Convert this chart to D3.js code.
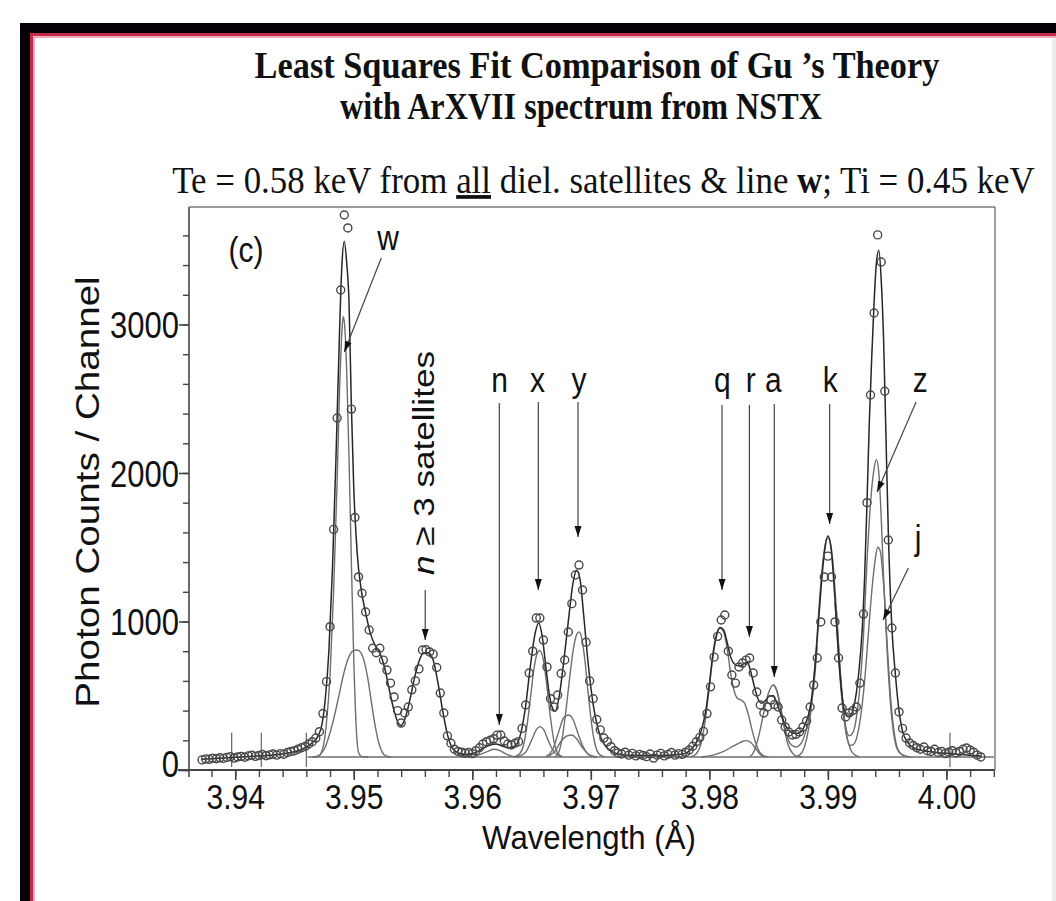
<!DOCTYPE html>
<html>
<head>
<meta charset="utf-8">
<script src="https://cdn.jsdelivr.net/npm/d3@7"></script>
<style>
  body { margin: 0; background: #fff; }
  svg { display: block; }
</style>
</head>
<body>
<div id="chart"></div>
<script>
// --- DATA ---
// measured spectrum: one count per detector channel
const channelStart = 3.9372, channelStep = 0.0003;
const counts = [
  68, 75, 72, 80, 76, 82, 78, 85, 90, 80,
  88, 92, 86, 95, 100, 92, 98, 104, 96, 102,
  108, 100, 110, 106, 118, 125, 130, 140, 150, 158,
  175, 190, 215, 258, 380, 595, 965, 1620, 2370, 3232,
  3737, 3650, 2430, 1700, 1300, 1190, 1064, 943, 820, 790,
  820, 740, 673, 585, 492, 400, 316, 384, 424, 540,
  600, 680, 808, 810, 795, 780, 690, 518, 384, 230,
  180, 140, 125, 120, 113, 118, 110, 130, 150, 175,
  190, 200, 210, 235, 236, 195, 175, 168, 180, 191,
  280, 438, 653, 800, 1023, 1023, 875, 694, 480, 424,
  505, 650, 741, 929, 1120, 1313, 1380, 1212, 860, 600,
  480, 340, 270, 215, 191, 157, 130, 115, 108, 120,
  100, 112, 95, 105, 98, 90, 108, 80, 100, 112,
  95, 105, 118, 100, 110, 105, 120, 135, 160, 190,
  220, 260, 380, 560, 760, 900, 1010, 1044, 800, 640,
  585, 694, 720, 740, 754, 653, 525, 438, 384, 424,
  471, 440, 424, 337, 290, 256, 236, 240, 256, 290,
  330, 424, 572, 754, 997, 1300, 1440, 1300, 997, 754,
  417, 357, 384, 400, 424, 585, 1050, 1800, 2525, 3077,
  3603, 3421, 2550, 1549, 956, 653, 391, 280, 215, 182,
  165, 150, 140, 155, 130, 125, 140, 118, 125, 110,
  120, 130, 115, 125, 140, 148, 135, 120, 100, 88
];

// least squares fit, total
const totalFit = [
  [3.9372, 72], [3.9390, 80], [3.9410, 90], [3.9430, 100], [3.9445, 115], [3.9455, 135],
  [3.9462, 165], [3.9466, 190], [3.9470, 230], [3.9473, 300], [3.9476, 480], [3.9479, 800],
  [3.9482, 1350], [3.9485, 2100], [3.9488, 2950], [3.9490, 3400], [3.9492, 3560], [3.9494, 3420],
  [3.9496, 3150], [3.9498, 2450], [3.9500, 1900], [3.9503, 1450], [3.9506, 1230], [3.9510, 1060],
  [3.9514, 920], [3.9518, 840], [3.9522, 790], [3.9526, 690], [3.9530, 540], [3.9534, 400],
  [3.9538, 310], [3.9540, 300], [3.9543, 340], [3.9547, 460], [3.9551, 610], [3.9555, 730],
  [3.9559, 790], [3.9563, 790], [3.9567, 740], [3.9571, 590], [3.9575, 400], [3.9579, 240],
  [3.9583, 150], [3.9588, 115], [3.9595, 105], [3.9602, 115], [3.9608, 140], [3.9614, 165],
  [3.9620, 175], [3.9626, 160], [3.9632, 150], [3.9637, 170], [3.9641, 250], [3.9645, 430],
  [3.9649, 700], [3.9653, 920], [3.9656, 990], [3.9659, 900], [3.9662, 700], [3.9665, 510],
  [3.9668, 410], [3.9670, 395], [3.9673, 480], [3.9677, 720], [3.9681, 1000], [3.9685, 1260],
  [3.9688, 1345], [3.9691, 1280], [3.9694, 1040], [3.9698, 700], [3.9702, 440], [3.9706, 280],
  [3.9710, 190], [3.9715, 140], [3.9720, 115], [3.9730, 100], [3.9760, 98], [3.9778, 108],
  [3.9784, 135], [3.9789, 185], [3.9793, 260], [3.9797, 400], [3.9800, 580], [3.9803, 780],
  [3.9806, 910], [3.9809, 960], [3.9812, 945], [3.9815, 860], [3.9818, 760], [3.9821, 715],
  [3.9825, 700], [3.9829, 715], [3.9832, 725], [3.9835, 660], [3.9838, 560], [3.9841, 480],
  [3.9844, 450], [3.9847, 465], [3.9851, 500], [3.9854, 500], [3.9857, 450], [3.9861, 360],
  [3.9865, 290], [3.9869, 255], [3.9873, 245], [3.9877, 255], [3.9881, 310], [3.9885, 420],
  [3.9888, 600], [3.9891, 880], [3.9894, 1200], [3.9897, 1460], [3.9900, 1575], [3.9903, 1470],
  [3.9906, 1150], [3.9909, 780], [3.9912, 500], [3.9915, 375], [3.9918, 360], [3.9921, 400],
  [3.9924, 520], [3.9926, 650], [3.9929, 950], [3.9931, 1300], [3.9933, 1800], [3.9935, 2350],
  [3.9937, 2780], [3.9939, 3150], [3.9941, 3420], [3.9943, 3500], [3.9945, 3300], [3.9947, 2900],
  [3.9949, 2250], [3.9951, 1600], [3.9954, 960], [3.9957, 640], [3.9960, 400], [3.9963, 260],
  [3.9967, 190], [3.9972, 150], [3.9980, 130], [3.9990, 120], [4.0000, 112], [4.0010, 106],
  [4.0020, 100], [4.0029, 95]
];

// fitted line components (grey curves)
const baseLine = [[3.9461, 88], [4.0040, 88]];
const wLine = [[3.9465, 88], [3.9470, 92], [3.9474, 150], [3.9477, 320], [3.9480, 640], [3.9483, 1200],
  [3.9486, 1950], [3.9488, 2550], [3.9490, 2950], [3.9491, 3052], [3.9492, 3020], [3.9494, 2700],
  [3.9496, 2100], [3.9498, 1400], [3.9500, 750], [3.9502, 300], [3.9504, 120], [3.9507, 90], [3.9512, 88]];
const satLine = [[3.9466, 88], [3.9470, 95], [3.9473, 115], [3.9476, 155], [3.9479, 225], [3.9482, 310],
  [3.9485, 410], [3.9488, 520], [3.9491, 630], [3.9494, 720], [3.9497, 780], [3.9500, 805], [3.9503, 808],
  [3.9506, 790], [3.9509, 725], [3.9512, 610], [3.9515, 450], [3.9518, 300], [3.9521, 185], [3.9524, 120],
  [3.9527, 95], [3.9531, 88]];
const nLine = [[3.9590, 88], [3.9600, 92], [3.9607, 105], [3.9613, 125], [3.9618, 140], [3.9623, 132],
  [3.9628, 110], [3.9634, 92], [3.9640, 88]];
const xLine = [[3.9635, 88], [3.9640, 110], [3.9643, 160], [3.9646, 290], [3.9649, 480], [3.9652, 680],
  [3.9655, 790], [3.9657, 805], [3.9660, 740], [3.9663, 560], [3.9666, 350], [3.9669, 190], [3.9672, 115], [3.9676, 90]];
const xSmallLine = [[3.9637, 88], [3.9645, 120], [3.9650, 200], [3.9654, 270], [3.9657, 292], [3.9660, 275],
  [3.9664, 200], [3.9669, 120], [3.9675, 90]];
const yLine = [[3.9670, 88], [3.9673, 120], [3.9676, 220], [3.9679, 400], [3.9682, 610], [3.9685, 800],
  [3.9688, 910], [3.9690, 930], [3.9692, 900], [3.9695, 740], [3.9698, 500], [3.9701, 290], [3.9704, 160],
  [3.9708, 100], [3.9712, 88]];
const ySmall1Line = [[3.9662, 88], [3.9668, 140], [3.9673, 260], [3.9677, 350], [3.9681, 370], [3.9685, 340],
  [3.9689, 250], [3.9694, 150], [3.9700, 95], [3.9705, 88]];
const ySmall2Line = [[3.9664, 88], [3.9670, 130], [3.9675, 195], [3.9680, 230], [3.9684, 236], [3.9688, 210],
  [3.9693, 150], [3.9699, 100], [3.9705, 88]];
const qrLine = [[3.9784, 88], [3.9789, 110], [3.9793, 180], [3.9797, 360], [3.9800, 560], [3.9803, 760],
  [3.9806, 900], [3.9809, 955], [3.9812, 930], [3.9815, 820], [3.9818, 650], [3.9821, 530], [3.9824, 480],
  [3.9827, 470], [3.9830, 445], [3.9833, 370], [3.9836, 270], [3.9839, 185], [3.9842, 125], [3.9846, 95], [3.9850, 88]];
const rSmallLine = [[3.9793, 88], [3.9803, 100], [3.9812, 125], [3.9820, 160], [3.9826, 185], [3.9831, 198],
  [3.9835, 185], [3.9839, 145], [3.9843, 105], [3.9847, 88]];
const aLine = [[3.9834, 88], [3.9838, 130], [3.9842, 240], [3.9846, 390], [3.9850, 520], [3.9854, 572],
  [3.9857, 530], [3.9860, 420], [3.9863, 290], [3.9866, 180], [3.9870, 115], [3.9874, 92], [3.9878, 88]];
const akLine = [[3.9854, 575], [3.9857, 535], [3.9860, 430], [3.9863, 310], [3.9866, 215], [3.9869, 170],
  [3.9873, 155], [3.9877, 175], [3.9881, 250], [3.9885, 390], [3.9888, 560], [3.9891, 830]];
const kLine = [[3.9872, 88], [3.9876, 100], [3.9880, 150], [3.9884, 290], [3.9887, 500], [3.9890, 800],
  [3.9893, 1150], [3.9896, 1420], [3.9899, 1555], [3.9901, 1560], [3.9904, 1420], [3.9907, 1100],
  [3.9910, 720], [3.9913, 420], [3.9916, 230], [3.9919, 140], [3.9923, 100], [3.9927, 88]];
const kzLine = [[3.9906, 1130], [3.9909, 760], [3.9912, 460], [3.9915, 290], [3.9918, 230], [3.9921, 250],
  [3.9924, 350], [3.9927, 560], [3.9930, 900], [3.9933, 1400], [3.9936, 1800], [3.9939, 2030], [3.9941, 2090],
  [3.9943, 2000], [3.9945, 1700], [3.9947, 1300], [3.9950, 800], [3.9953, 430], [3.9956, 220], [3.9960, 120],
  [3.9965, 95], [3.9970, 88]];
const kjLine = [[3.9907, 1100], [3.9910, 700], [3.9913, 400], [3.9916, 220], [3.9919, 165], [3.9922, 175],
  [3.9925, 240], [3.9928, 380], [3.9931, 600], [3.9934, 900], [3.9937, 1200], [3.9940, 1420], [3.9942, 1500],
  [3.9944, 1480], [3.9947, 1250], [3.9950, 850], [3.9953, 480], [3.9956, 250], [3.9959, 140], [3.9963, 100], [3.9968, 88]];

// short vertical range markers near the baseline
const markerWavelengths = [3.9397, 3.9422, 3.9460, 4.0003];
const markerRange = [20, 250];

// line identifications: label, label position, arrow tail, arrow head (wavelength, counts)
const lineNames = ["w", "n", "x", "y", "q", "r", "a", "k", "z", "j"];
const labelPos = [[3.9529, 3502], [3.9623, 2545], [3.9655, 2545], [3.9690, 2545], [3.9811, 2545],
  [3.9835, 2545], [3.9854, 2545], [3.9902, 2545], [3.9978, 2545], [3.9976, 1481]];
const arrowTails = [[3.95232, 3448], [3.96228, 2471], [3.96557, 2478], [3.96892, 2478], [3.98107, 2458],
  [3.98338, 2458], [3.98548, 2465], [3.99015, 2465], [3.99744, 2478], [3.99679, 1360]];
const arrowHeads = [[3.94920, 2815], [3.96228, 303], [3.96557, 1212], [3.96892, 1569], [3.98107, 1212],
  [3.98338, 896], [3.98548, 626], [3.99015, 1657], [3.99415, 1872], [3.99466, 1010]];
const satLabelPos = [3.95586, 2067];
const satArrow = [[3.95603, 1212], [3.95603, 875]];

const xTicks = [3.94, 3.95, 3.96, 3.97, 3.98, 3.99, 4.00];
const yTicks = [0, 1000, 2000, 3000];

// --- LAYOUT ---
const width = 1056, height = 901;
const SANS = "'Liberation Sans', Arial, Helvetica, sans-serif";
const SERIF = "'Liberation Serif', 'Times New Roman', serif";
const STRETCH = 1.17; // picture is a little taller than wide

const x = d3.scaleLinear().domain([3.9361, 4.0041]).range([189, 995]);
const y = d3.scaleLinear().domain([0, 3791]).range([770, 207]);

const svg = d3.select("#chart").append("svg")
    .attr("width", width).attr("height", height)
    .style("font-family", SANS);

// --- slide frame ---
svg.append("rect").attr("x", 20).attr("y", 23).attr("width", width - 20).attr("height", 10).attr("fill", "#050005");
svg.append("rect").attr("x", 20).attr("y", 23).attr("width", 10).attr("height", height - 23).attr("fill", "#050005");
svg.append("rect").attr("x", 30).attr("y", 33).attr("width", width - 30).attr("height", 3).attr("fill", "#c42a4c");
svg.append("rect").attr("x", 30).attr("y", 33).attr("width", 3).attr("height", height - 33).attr("fill", "#c42a4c");
svg.append("rect").attr("x", 33).attr("y", 36).attr("width", width - 33).attr("height", 2).attr("fill", "#f2aabb");
svg.append("rect").attr("x", 33).attr("y", 36).attr("width", 2).attr("height", height - 36).attr("fill", "#f2aabb");
svg.append("rect").attr("x", width - 4).attr("y", 38).attr("width", 4).attr("height", height - 38).attr("fill", "#ececec");

// --- titles (scaled to the measured widths) ---
function fit(sel, cx, baseY, targetW) {
  const len = sel.node().getComputedTextLength();
  sel.attr("transform", `translate(${cx},${baseY}) scale(${targetW / len},${STRETCH})`);
}
const t1 = svg.append("text").attr("text-anchor", "middle").attr("font-family", SERIF)
    .attr("font-weight", "bold").attr("font-size", 32).attr("fill", "#111")
    .text("Least Squares Fit Comparison of Gu \u2019s Theory");
fit(t1, 597, 78, 685);
const t2 = svg.append("text").attr("text-anchor", "middle").attr("font-family", SERIF)
    .attr("font-weight", "bold").attr("font-size", 32).attr("fill", "#111")
    .text("with ArXVII spectrum from NSTX");
fit(t2, 581, 119, 482);
const t3 = svg.append("text").attr("text-anchor", "middle").attr("font-family", SERIF)
    .attr("font-size", 32).attr("fill", "#111");
t3.append("tspan").text("Te = 0.58 keV from ");
t3.append("tspan").text("all").style("text-decoration", "underline");
t3.append("tspan").text(" diel. satellites & line ");
t3.append("tspan").text("w").attr("font-weight", "bold");
t3.append("tspan").text("; Ti = 0.45 keV");
fit(t3, 603.5, 193, 863);

// --- axes ---
const xMinor = d3.range(0, 34).map(i => +(3.938 + i * 0.002).toFixed(3));
const yMinor = d3.range(0, 3800, 200);

svg.append("g").attr("transform", `translate(0,${y(0)})`).attr("color", "#444")
    .call(d3.axisBottom(x).tickValues(xMinor).tickSize(7).tickSizeOuter(0).tickFormat(""))
    .call(g => g.select(".domain").remove())
    .call(g => g.selectAll("line").attr("stroke-width", 1.4));

svg.append("g").attr("transform", `translate(0,${y(0)})`).attr("color", "#444")
    .call(d3.axisBottom(x).tickValues(xTicks).tickSize(10).tickSizeOuter(0).tickFormat(d3.format(".2f")))
    .call(g => g.select(".domain").remove())
    .call(g => g.selectAll("line").attr("stroke-width", 1.6))
    .call(g => g.selectAll("text")
        .attr("y", null).attr("dy", null)
        .attr("font-size", 30).attr("font-family", SANS).attr("fill", "#111")
        .attr("transform", `translate(0,39) scale(1,${STRETCH})`));

svg.append("g").attr("transform", `translate(${x.range()[0]},0)`).attr("color", "#444")
    .call(d3.axisLeft(y).tickValues(yMinor).tickSize(6).tickSizeOuter(0).tickFormat(""))
    .call(g => g.select(".domain").remove())
    .call(g => g.selectAll("line").attr("stroke-width", 1.4));

svg.append("g").attr("transform", `translate(${x.range()[0]},0)`).attr("color", "#444")
    .call(d3.axisLeft(y).tickValues(yTicks).tickSize(10).tickSizeOuter(0).tickFormat(d3.format("d")))
    .call(g => g.select(".domain").remove())
    .call(g => g.selectAll("line").attr("stroke-width", 1.6))
    .call(g => g.selectAll("text")
        .attr("x", -10).attr("dy", "0.36em")
        .attr("font-size", 31).attr("font-family", SANS).attr("fill", "#111")
        .attr("transform", d => `translate(0,${d === 0 ? -7 : 0}) scale(1,${STRETCH})`));

// axis lines and plot frame
const [x0, x1] = x.range(), [yb, yt] = y.range();
svg.append("line").attr("x1", x0).attr("x2", x0).attr("y1", yt).attr("y2", yb + 7)
    .attr("stroke", "#444").attr("stroke-width", 1.6);
svg.append("line").attr("x1", x0 - 11).attr("x2", x1).attr("y1", yb).attr("y2", yb)
    .attr("stroke", "#444").attr("stroke-width", 1.8);
svg.append("line").attr("x1", x0).attr("x2", x1).attr("y1", yt).attr("y2", yt)
    .attr("stroke", "#777").attr("stroke-width", 1.4);
svg.append("line").attr("x1", x1).attr("x2", x1).attr("y1", yt).attr("y2", yb)
    .attr("stroke", "#777").attr("stroke-width", 1.4);

// axis titles
svg.append("text").attr("text-anchor", "middle").attr("font-size", 30).attr("fill", "#111")
    .attr("transform", `translate(589,849) scale(1.04,1.12)`)
    .text("Wavelength (\u00C5)");
svg.append("text").attr("text-anchor", "middle").attr("dominant-baseline", "central")
    .attr("font-size", 33).attr("fill", "#111")
    .attr("transform", `translate(88,492) scale(1,${STRETCH}) rotate(-90)`)
    .text("Photon Counts / Channel");

// --- curves ---
const line = d3.line().x(d => x(d[0])).y(d => y(d[1])).curve(d3.curveMonotoneX);
const componentLines = [baseLine, wLine, satLine, nLine, xLine, xSmallLine, yLine, ySmall1Line, ySmall2Line,
  qrLine, rSmallLine, aLine, akLine, kLine, kzLine, kjLine];

svg.append("g").selectAll("path").data(componentLines).join("path")
    .attr("d", line).attr("fill", "none").attr("stroke", "#6e6e6e").attr("stroke-width", 1.4);

svg.append("g").selectAll("line").data(markerWavelengths).join("line")
    .attr("x1", d => x(d)).attr("x2", d => x(d))
    .attr("y1", y(markerRange[0])).attr("y2", y(markerRange[1]))
    .attr("stroke", "#666").attr("stroke-width", 1.2);

svg.append("path").datum(totalFit).attr("d", line)
    .attr("fill", "none").attr("stroke", "#262626").attr("stroke-width", 1.5);

const points = counts.map((c, i) => [channelStart + i * channelStep, c]);
svg.append("g").selectAll("circle").data(points).join("circle")
    .attr("cx", d => x(d[0])).attr("cy", d => y(d[1])).attr("r", 4)
    .attr("fill", "none").attr("stroke", "#484848").attr("stroke-width", 1.4);

// --- annotations ---
svg.append("defs").append("marker")
    .attr("id", "head").attr("viewBox", "0 -4 11 8").attr("refX", 11).attr("refY", 0)
    .attr("markerUnits", "userSpaceOnUse").attr("markerWidth", 11).attr("markerHeight", 8)
    .attr("orient", "auto")
  .append("path").attr("d", "M0,-3.5L11,0L0,3.5Z").attr("fill", "#111");

const ann = svg.append("g");
ann.selectAll("line").data(lineNames.map((n, i) => [arrowTails[i], arrowHeads[i]]).concat([satArrow]))
  .join("line")
    .attr("x1", d => x(d[0][0])).attr("y1", d => y(d[0][1]))
    .attr("x2", d => x(d[1][0])).attr("y2", d => y(d[1][1]))
    .attr("stroke", "#444").attr("stroke-width", 1.2).attr("marker-end", "url(#head)");

ann.selectAll("text").data(lineNames).join("text")
    .attr("text-anchor", "middle").attr("font-size", 30).attr("fill", "#111")
    .attr("transform", (d, i) => `translate(${x(labelPos[i][0])},${y(labelPos[i][1])}) scale(1,${STRETCH})`)
    .text(d => d);

const sat = svg.append("text").attr("text-anchor", "middle").attr("dominant-baseline", "central")
    .attr("font-size", 30).attr("fill", "#111")
    .attr("transform", `translate(${x(satLabelPos[0])},${y(satLabelPos[1])}) scale(1,${STRETCH}) rotate(-90)`);
sat.append("tspan").attr("font-style", "italic").text("n");
sat.append("tspan").text(" \u2265 3 satellites");

svg.append("text").attr("text-anchor", "middle").attr("font-size", 30).attr("fill", "#111")
    .attr("transform", `translate(${x(3.9409)},${y(3421)}) scale(1,${STRETCH})`)
    .text("(c)");
</script>
</body>
</html>
